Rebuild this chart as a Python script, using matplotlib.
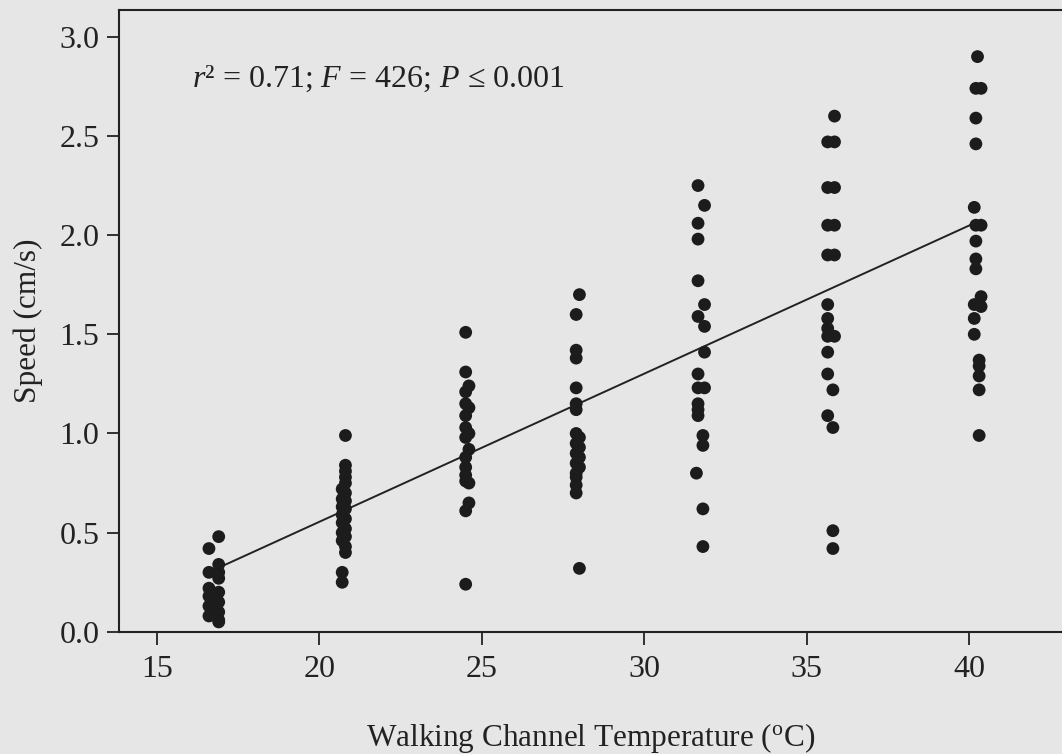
import numpy as np
import matplotlib
matplotlib.use("Agg")
import matplotlib.pyplot as plt

plt.rcParams['font.family'] = ['Liberation Serif', 'DejaVu Serif']
plt.rcParams['mathtext.fontset'] = 'custom'
plt.rcParams['mathtext.rm'] = 'Liberation Serif'
plt.rcParams['mathtext.it'] = 'Liberation Serif:italic'

# walking channel temperature (C) and speed (cm/s), grouped by temperature setting
temp_17 = [16.9, 16.6, 16.9, 16.9, 16.9, 16.6, 16.6, 16.9, 16.6, 16.9, 16.6, 16.9, 16.6, 16.9, 16.9]
speed_17 = [0.48, 0.42, 0.34, 0.30, 0.27, 0.30, 0.22, 0.20, 0.18, 0.15, 0.13, 0.10, 0.08, 0.06, 0.05]

temp_21 = [20.8, 20.8, 20.8, 20.8, 20.8, 20.7, 20.8, 20.7, 20.8, 20.7, 20.8, 20.7, 20.8, 20.7,
           20.8, 20.7, 20.8, 20.7, 20.8, 20.8, 20.7, 20.7]
speed_21 = [0.99, 0.84, 0.81, 0.78, 0.75, 0.72, 0.70, 0.67, 0.66, 0.63, 0.62, 0.59, 0.57, 0.55,
            0.52, 0.50, 0.48, 0.46, 0.43, 0.40, 0.30, 0.25]

temp_25 = [24.5, 24.5, 24.6, 24.5, 24.5, 24.6, 24.5, 24.5, 24.6, 24.5, 24.6, 24.5, 24.5, 24.5,
           24.5, 24.6, 24.6, 24.5, 24.5]
speed_25 = [1.51, 1.31, 1.24, 1.21, 1.15, 1.13, 1.09, 1.03, 1.00, 0.98, 0.92, 0.88, 0.83, 0.79,
            0.76, 0.75, 0.65, 0.61, 0.24]

temp_28 = [28.0, 27.9, 27.9, 27.9, 27.9, 27.9, 27.9, 27.9, 28.0, 27.9, 28.0, 27.9, 28.0, 27.9,
           28.0, 27.9, 27.9, 27.9, 27.9, 28.0]
speed_28 = [1.70, 1.60, 1.42, 1.38, 1.23, 1.15, 1.12, 1.00, 0.98, 0.95, 0.93, 0.90, 0.88, 0.85,
            0.83, 0.80, 0.78, 0.74, 0.70, 0.32]

temp_32 = [31.65, 31.85, 31.65, 31.65, 31.65, 31.85, 31.65, 31.85, 31.85, 31.65, 31.65, 31.85,
           31.65, 31.65, 31.65, 31.8, 31.8, 31.6, 31.8, 31.8]
speed_32 = [2.25, 2.15, 2.06, 1.98, 1.77, 1.65, 1.59, 1.54, 1.41, 1.30, 1.23, 1.23,
            1.15, 1.12, 1.09, 0.99, 0.94, 0.80, 0.62, 0.43]

temp_36 = [35.85, 35.64, 35.85, 35.64, 35.85, 35.64, 35.85, 35.64, 35.85, 35.64, 35.64, 35.64,
           35.64, 35.85, 35.64, 35.64, 35.8, 35.64, 35.8, 35.8, 35.8]
speed_36 = [2.60, 2.47, 2.47, 2.24, 2.24, 2.05, 2.05, 1.90, 1.90, 1.65, 1.58, 1.53,
            1.49, 1.49, 1.41, 1.30, 1.22, 1.09, 1.03, 0.51, 0.42]

temp_40 = [40.25, 40.2, 40.36, 40.2, 40.2, 40.15, 40.2, 40.36, 40.2, 40.2, 40.2, 40.36,
           40.15, 40.36, 40.15, 40.15, 40.3, 40.3, 40.3, 40.3, 40.3]
speed_40 = [2.90, 2.74, 2.74, 2.59, 2.46, 2.14, 2.05, 2.05, 1.97, 1.88, 1.83, 1.69,
            1.65, 1.64, 1.58, 1.50, 1.37, 1.34, 1.29, 1.22, 0.99]

# reported regression line
fit_slope = 0.0747
fit_intercept = -0.939
stats_label = r'$r$² = 0.71; $F$ = 426; $P$ ≤ 0.001'

x = np.array(temp_17 + temp_21 + temp_25 + temp_28 + temp_32 + temp_36 + temp_40)
y = np.array(speed_17 + speed_21 + speed_25 + speed_28 + speed_32 + speed_36 + speed_40)

bg = '#e6e6e6'
ink = '#222222'

fig = plt.figure(figsize=(10.62, 7.54), dpi=100)
fig.patch.set_facecolor(bg)
ax = fig.add_axes([0.112, 0.162, 0.888, 0.825])
ax.set_facecolor(bg)

ax.scatter(x, y, s=85, color='#1c1c1c', edgecolors='none', zorder=3)

# line spans the measured temperature range
xs = np.array([x.min(), x.max()])
ax.plot(xs, fit_slope * xs + fit_intercept, color=ink, lw=1.4, zorder=2)

ax.set_xlim(13.83, 42.85)
ax.set_ylim(0, 3.136)
ax.set_xticks([15, 20, 25, 30, 35, 40])
ax.set_yticks([0.0, 0.5, 1.0, 1.5, 2.0, 2.5, 3.0])
ax.set_yticklabels(['%.1f' % v for v in ax.get_yticks()])

ax.spines['right'].set_visible(False)
for s in ['left', 'top', 'bottom']:
    ax.spines[s].set_color(ink)
    ax.spines[s].set_linewidth(1.5)
ax.tick_params(axis='both', colors=ink, labelsize=23, length=9, width=1.3, direction='out')
ax.tick_params(axis='x', pad=8)
ax.tick_params(axis='y', pad=5)

ax.set_xlabel(r'Walking Channel Temperature ($^{\mathrm{o}}$C)', fontsize=22.5, color=ink, labelpad=26)
ax.set_ylabel('Speed (cm/s)', fontsize=22.5, color=ink, labelpad=12)

ax.text(16.08, 2.79, stats_label, fontsize=23, color=ink, ha='left', va='center')

fig.savefig('out.png', dpi=100, facecolor=bg)
